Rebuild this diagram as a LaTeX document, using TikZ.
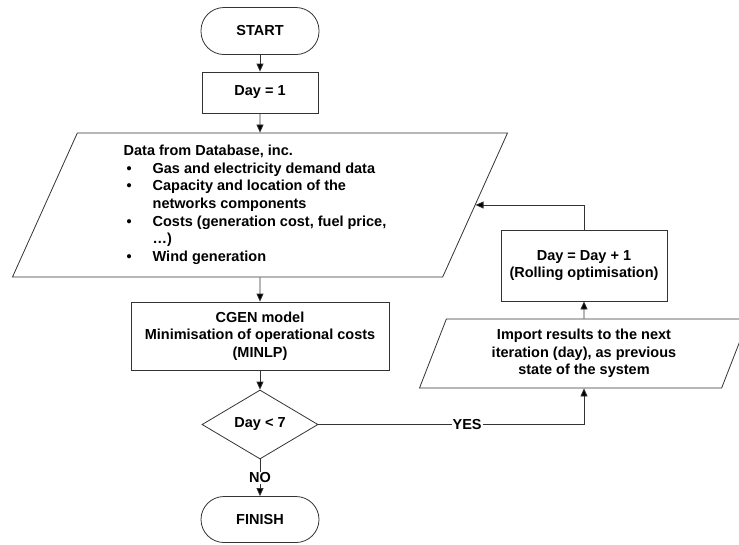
\documentclass[tikz,border=0pt]{standalone}
\usepackage{fontspec}
\setmainfont{Liberation Sans}
\usetikzlibrary{shapes.geometric,arrows.meta}
\tikzset{
    % boxes and arrows
    myarr/.style={-{Triangle[length=8pt,width=7pt,fill=black]}, line width=0.8pt, draw=black!80},
    mybox/.style={draw=black!80, line width=0.8pt, align=center, inner sep=2pt},
    myterm/.style={mybox, rounded corners=23pt, minimum width=118pt, minimum height=47pt},
    myio/.style={mybox, trapezium, trapezium left angle=63, trapezium right angle=117, trapezium stretches body},
    mylab/.style={fill=white, inner sep=1pt}
}
\begin{document}
\begin{tikzpicture}[x=1pt, y=-1pt, font=\fontsize{14.5}{17.6}\selectfont\bfseries]
    \useasboundingbox (0,0) rectangle (739,544);
 % MAIN LOOP
    \node (start) at (260,31) [myterm] {START};
    \node (day1) at (260,92.5) [mybox, minimum width=116pt, minimum height=41pt] {Day = 1};
    \node (data) at (260,205) [myio, minimum width=495pt, minimum height=144pt] {%
      \begin{tabular}{@{}p{29pt}@{}l@{\hspace{10pt}}}
      \multicolumn{2}{@{}l@{}}{Data from Database, inc.}\\
      \hspace{3pt}\textbullet & Gas and electricity demand data\\
      \hspace{3pt}\textbullet & Capacity and location of the\\
       & networks components\\
      \hspace{3pt}\textbullet & Costs (generation cost, fuel price,\\
       & \dots)\\
      \hspace{3pt}\textbullet & Wind generation
      \end{tabular}};
    \node (cgen) at (260,336) [mybox, minimum width=258pt, minimum height=68pt] {CGEN model \\ Minimisation of operational costs \\ (MINLP)};
    \node (dec) at (260,424.5) [mybox, diamond, aspect=1.68, inner sep=0pt, minimum width=116pt, minimum height=69pt] {Day < 7};
    \node (finish) at (260,519.5) [myterm, minimum height=46pt] {FINISH};

 % ROLLING
    \node (inc) at (584,265.5) [mybox, minimum width=166pt, minimum height=71pt] {Day = Day + 1 \\ (Rolling optimisation)};
    \node (imp) at (584,353.5) [myio, minimum width=329pt, minimum height=69pt] {Import results to the next \\ iteration (day), as previous \\ state of the system};

     % ARROWS
       \draw[myarr] (start) -- (day1);
       \draw[myarr] (day1) -- (data);
       \draw[myarr] (data) -- (cgen);
       \draw[myarr] (cgen) -- (dec);
       \draw[myarr] (dec) -- (finish) node[midway, mylab] {NO};
       \draw[myarr] (dec.east) -| (imp) node[pos=0.28, mylab] {YES};
       \draw[myarr] (imp) -- (inc);
       \draw[myarr] (inc) |- (data);

\end{tikzpicture}
\end{document}
